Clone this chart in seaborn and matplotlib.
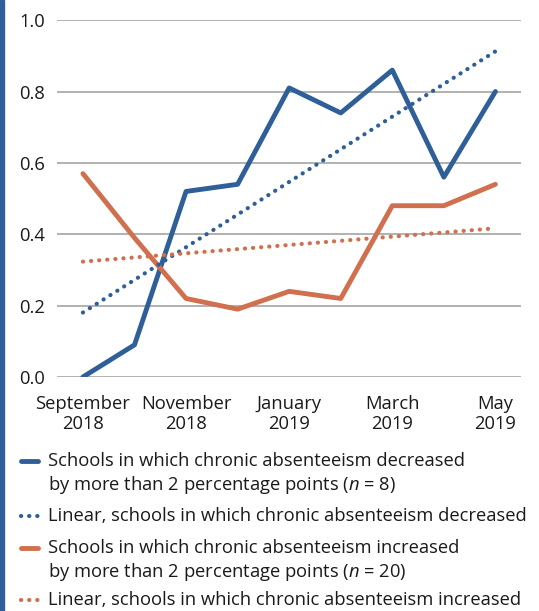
import matplotlib
matplotlib.use("Agg")
import matplotlib.pyplot as plt
from matplotlib.lines import Line2D
from matplotlib.patches import Rectangle
import seaborn as sns
import pandas as pd

# Chart data
months = ["September\n2018", "October\n2018", "November\n2018", "December\n2018",
          "January\n2019", "February\n2019", "March\n2019", "April\n2019", "May\n2019"]
decreased = [0.0, 0.09, 0.52, 0.54, 0.81, 0.74, 0.86, 0.56, 0.80]
increased = [0.57, 0.39, 0.22, 0.19, 0.24, 0.22, 0.48, 0.48, 0.54]
yticks = [0.0, 0.2, 0.4, 0.6, 0.8, 1.0]

labels = [
    "Schools in which chronic absenteeism decreased\nby more than 2 percentage points ($n$ = 8)",
    "Linear, schools in which chronic absenteeism decreased",
    "Schools in which chronic absenteeism increased\nby more than 2 percentage points ($n$ = 20)",
    "Linear, schools in which chronic absenteeism increased",
]

blue = "#2F5F98"
orange = "#D0704E"
FS = 13.2

sns.set_style("white")
plt.rcParams["font.family"] = ["Open Sans", "DejaVu Sans"]
plt.rcParams["mathtext.fontset"] = "custom"
plt.rcParams["mathtext.it"] = "Open Sans:italic"
plt.rcParams["mathtext.rm"] = "Open Sans"

df = pd.DataFrame({"x": range(len(months)), "dec": decreased, "inc": increased})

fig = plt.figure(figsize=(5.39, 6.11), dpi=100)
ax = fig.add_axes([0.106, 0.383, 0.861, 0.584])

dotted = (0, (0.05, 1.9))
sns.lineplot(data=df, x="x", y="dec", ax=ax, color=blue, linewidth=3.5,
             solid_capstyle="round", zorder=3)
sns.regplot(data=df, x="x", y="dec", ax=ax, scatter=False, ci=None, color=blue,
            line_kws=dict(linestyle=dotted, linewidth=3.0, dash_capstyle="round", zorder=4))
sns.lineplot(data=df, x="x", y="inc", ax=ax, color=orange, linewidth=3.5,
             solid_capstyle="round", zorder=3)
sns.regplot(data=df, x="x", y="inc", ax=ax, scatter=False, ci=None, color=orange,
            line_kws=dict(linestyle=dotted, linewidth=3.0, dash_capstyle="round", zorder=4))

ax.set_xlim(-0.5, 8.5)
ax.set_ylim(0, 1.0)
ax.set_yticks(yticks)
ax.set_yticklabels([f"{v:.1f}" for v in yticks])
ax.set_xticks(range(0, len(months), 2))
ax.set_xticklabels(months[::2], linespacing=1.17)
ax.tick_params(axis="y", length=0, pad=9, labelsize=FS, colors="#1a1a1a")
ax.tick_params(axis="x", length=0, pad=13, labelsize=FS, colors="#1a1a1a")
ax.set_xlabel("")
ax.set_ylabel("")
ax.grid(axis="y", color="#ABABAB", linewidth=1.3)
ax.set_axisbelow(True)
sns.despine(ax=ax, left=True, bottom=True)

# legend drawn by hand so the handles sit on the first text line
W, H = 539, 611
styles = [
    dict(color=blue, linewidth=3.5, solid_capstyle="round"),
    dict(color=blue, linewidth=3.0, linestyle=dotted, dash_capstyle="round"),
    dict(color=orange, linewidth=3.5, solid_capstyle="round"),
    dict(color=orange, linewidth=3.0, linestyle=dotted, dash_capstyle="round"),
]
rows = [461, 516, 548, 600]
for lab, st, y in zip(labels, styles, rows):
    yf = 1 - y / H
    fig.add_artist(Line2D([21 / W, 38 / W], [yf, yf], transform=fig.transFigure, **st))
    fig.text(48 / W, yf + 9 / H, lab, fontsize=FS, va="top", ha="left",
             color="#1a1a1a", linespacing=1.25)

# left accent bar
fig.patches.append(Rectangle((0, 0), 0.007, 1, transform=fig.transFigure,
                             color=blue, zorder=0))

fig.savefig("out.png", dpi=100)
